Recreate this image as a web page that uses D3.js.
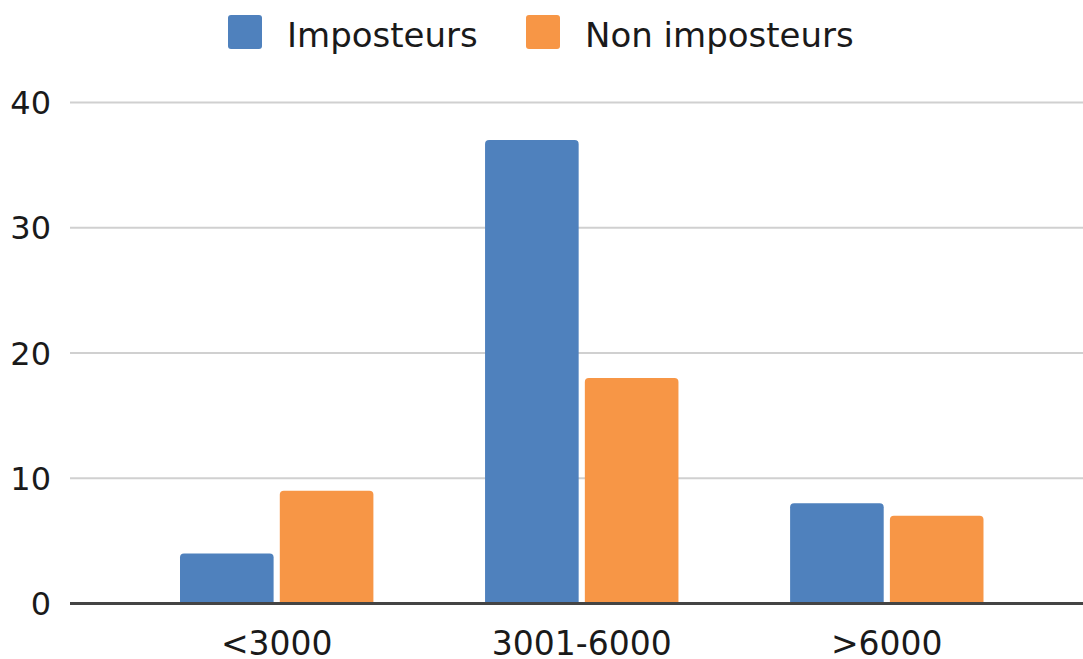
<!DOCTYPE html>
<html>
<head>
<meta charset="utf-8">
<script src="https://cdn.jsdelivr.net/npm/d3@7"></script>
<style>
  body { margin: 0; background: #fff; }
  svg text { font-family: "DejaVu Sans", Verdana, sans-serif; fill: #1a1a1a; }
</style>
</head>
<body>
<div id="chart"></div>
<script>
// values
const categories = ["<3000", "3001-6000", ">6000"];
const seriesNames = ["Imposteurs", "Non imposteurs"];
const imposteurs = [4, 37, 8];
const nonImposteurs = [9, 18, 7];
const yTicks = [0, 10, 20, 30, 40];
const colors = ["#4f81bd", "#f79646"];

const width = 1083, height = 659;
const svg = d3.select("#chart").append("svg")
  .attr("width", width)
  .attr("height", height);

const y = d3.scaleLinear().domain([0, 40]).range([603.5, 102.5]);

const x0 = d3.scaleBand()
  .domain(categories)
  .range([180, 983.5])
  .paddingInner(0.366)
  .paddingOuter(0);

const x1 = d3.scaleBand()
  .domain(seriesNames)
  .range([0, x0.bandwidth()])
  .paddingInner(0.062);

// gridlines
svg.append("g")
  .selectAll("line")
  .data(yTicks.filter(d => d !== 0))
  .enter()
  .append("line")
  .attr("x1", 70)
  .attr("x2", width)
  .attr("y1", d => y(d))
  .attr("y2", d => y(d))
  .attr("stroke", "#d0d0d0")
  .attr("stroke-width", 2);

// y tick labels
svg.append("g")
  .selectAll("text")
  .data(yTicks)
  .enter()
  .append("text")
  .attr("x", 51)
  .attr("y", d => y(d))
  .attr("dy", "0.36em")
  .attr("text-anchor", "end")
  .attr("font-size", 32)
  .text(d => d);

// bars, only top corners rounded
function topRounded(x, yTop, w, h, r) {
  r = Math.min(r, h, w / 2);
  return `M${x},${yTop + h}V${yTop + r}Q${x},${yTop} ${x + r},${yTop}` +
    `H${x + w - r}Q${x + w},${yTop} ${x + w},${yTop + r}V${yTop + h}Z`;
}

const rows = categories.map((c, i) => ({
  cat: c,
  values: [
    { name: seriesNames[0], value: imposteurs[i] },
    { name: seriesNames[1], value: nonImposteurs[i] }
  ]
}));

const groups = svg.append("g")
  .selectAll("g")
  .data(rows)
  .enter()
  .append("g")
  .attr("transform", d => `translate(${x0(d.cat)},0)`);

groups.selectAll("path")
  .data(d => d.values)
  .enter()
  .append("path")
  .attr("d", d => topRounded(x1(d.name), y(d.value), x1.bandwidth(), y(0) - y(d.value), 4))
  .attr("fill", (d, i) => colors[i]);

// baseline
svg.append("line")
  .attr("x1", 70)
  .attr("x2", width)
  .attr("y1", y(0))
  .attr("y2", y(0))
  .attr("stroke", "#444")
  .attr("stroke-width", 3);

// x labels
svg.append("g")
  .selectAll("text")
  .data(categories)
  .enter()
  .append("text")
  .attr("x", d => x0(d) + x0.bandwidth() / 2)
  .attr("y", 655)
  .attr("text-anchor", "middle")
  .attr("font-size", 33)
  .text(d => d);

// legend
const legendX = [228, 526];
const legend = svg.append("g")
  .selectAll("g")
  .data(seriesNames)
  .enter()
  .append("g")
  .attr("transform", (d, i) => `translate(${legendX[i]},15)`);

legend.append("rect")
  .attr("width", 34)
  .attr("height", 34)
  .attr("rx", 3)
  .attr("fill", (d, i) => colors[i]);

legend.append("text")
  .attr("x", 59)
  .attr("y", 31.5)
  .attr("font-size", 34)
  .text(d => d);
</script>
</body>
</html>
